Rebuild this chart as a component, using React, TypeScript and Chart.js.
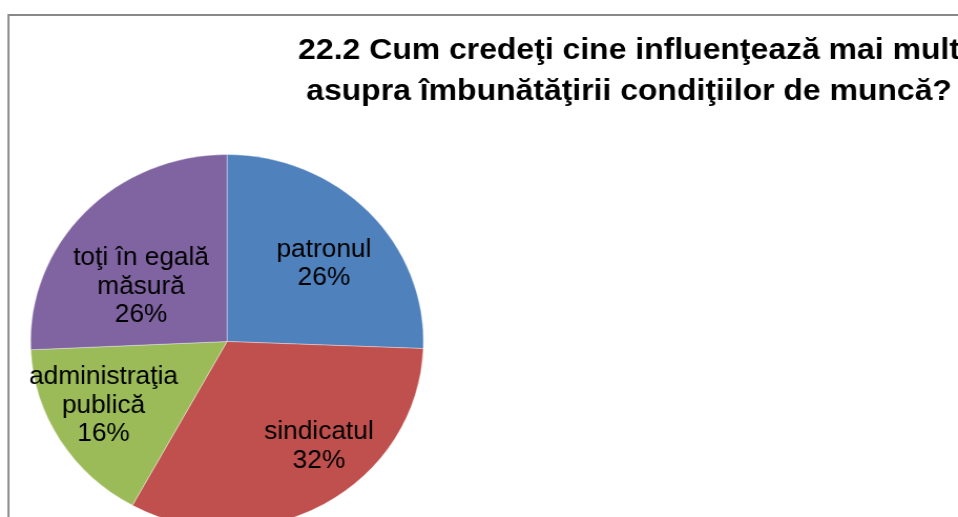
import { useEffect, useRef } from "react";
import { Chart, registerables } from "chart.js";

Chart.register(...registerables);

// ---- data ----
const categories = [
  "patronul",
  "sindicatul",
  "administraţia publică",
  "toţi în egală măsură",
];
const labelLines = [
  ["patronul"],
  ["sindicatul"],
  ["administraţia", "publică"],
  ["toţi în egală", "măsură"],
];
// shares read from the slice boundaries (labels show them rounded)
const shares = [25.6, 32.4, 16.3, 25.7];
const titleLines = [
  "22.2 Cum credeţi cine influenţează mai mult",
  "asupra îmbunătăţirii condiţiilor de muncă?",
];

// ---- styles ----
const sliceColors = ["#4F81BD", "#C0504D", "#9BBB59", "#8064A2"];
const VIEW_W = 958;
const VIEW_H = 517;
const STRETCH_X = 1.0504; // the reference is drawn slightly wider than tall
const CANVAS_W = Math.round(VIEW_W / STRETCH_X);
const CANVAS_H = VIEW_H;
const PIE_RADIUS = 187;
// label placement inside the slices (fraction of radius, angle shift in degrees)
const labelRadiusFraction = [0.652, 0.723, 0.712, 0.533];
const labelAngleShift = [3.1, -10.8, 3.9, -8.9];
const LABEL_FONT = "25px 'Liberation Sans', Arial, sans-serif";
const LABEL_LINE_H = 28.5;
const TITLE_FONT = "bold 30.4px 'Liberation Sans', Arial, sans-serif";
const TITLE_CENTER_X = 629 / STRETCH_X;
const TITLE_BASELINES = [59, 100];

const framePlugin = {
  id: "frameBorder",
  beforeDraw(chart: any) {
    const ctx = chart.ctx;
    ctx.save();
    ctx.strokeStyle = "#888888";
    ctx.lineWidth = 1.9;
    ctx.beginPath();
    ctx.moveTo(8.1, chart.height + 10);
    ctx.lineTo(8.1, 15);
    ctx.lineTo(chart.width + 10, 15);
    ctx.stroke();
    ctx.restore();
  },
};

const titlePlugin = {
  id: "wideTitle",
  afterDraw(chart: any) {
    const ctx = chart.ctx;
    ctx.save();
    ctx.font = TITLE_FONT;
    ctx.fillStyle = "#000000";
    ctx.textAlign = "center";
    ctx.textBaseline = "alphabetic";
    titleLines.forEach((line, i) => {
      ctx.fillText(line, TITLE_CENTER_X, TITLE_BASELINES[i]);
    });
    ctx.restore();
  },
};

const sliceLabelPlugin = {
  id: "sliceLabels",
  afterDatasetsDraw(chart: any) {
    const ctx = chart.ctx;
    const meta = chart.getDatasetMeta(0);
    const total = shares.reduce((a, b) => a + b, 0);
    ctx.save();
    ctx.font = LABEL_FONT;
    ctx.fillStyle = "#000000";
    ctx.textAlign = "center";
    ctx.textBaseline = "alphabetic";
    meta.data.forEach((arc: any, i: number) => {
      const p = arc.getProps(["x", "y", "startAngle", "endAngle", "outerRadius"], true);
      const mid = (p.startAngle + p.endAngle) / 2 + (labelAngleShift[i] * Math.PI) / 180;
      const r = p.outerRadius * labelRadiusFraction[i];
      const cx = p.x + Math.cos(mid) * r;
      const cy = p.y + Math.sin(mid) * r;
      const pct = Math.round((shares[i] / total) * 100);
      const lines = [...labelLines[i], `${pct}%`];
      const first = cy - ((lines.length - 1) * LABEL_LINE_H) / 2 + 9;
      lines.forEach((t, k) => ctx.fillText(t, cx, first + k * LABEL_LINE_H));
    });
    ctx.restore();
  },
};

export default function App() {
  const canvasRef = useRef<HTMLCanvasElement | null>(null);

  useEffect(() => {
    if (!canvasRef.current) return;
    const pieCenterX = 227 / STRETCH_X;
    const left = 20;
    const right = CANVAS_W - (2 * pieCenterX - left);
    const chart = new Chart(canvasRef.current, {
      type: "pie",
      data: {
        labels: categories,
        datasets: [
          {
            data: shares,
            backgroundColor: sliceColors,
            borderColor: "rgba(255,255,255,0.35)",
            borderWidth: 1,
            radius: PIE_RADIUS,
          },
        ],
      },
      options: {
        responsive: false,
        animation: false,
        devicePixelRatio: 1,
        events: [],
        layout: { padding: { left, right, top: 166, bottom: 0 } },
        plugins: {
          legend: { display: false },
          title: { display: false },
          tooltip: { enabled: false },
        },
      },
      plugins: [framePlugin, sliceLabelPlugin, titlePlugin],
    });
    return () => chart.destroy();
  }, []);

  return (
    <div
      style={{
        position: "fixed",
        left: 0,
        top: 0,
        width: VIEW_W,
        height: VIEW_H,
        overflow: "hidden",
        background: "#ffffff",
      }}
    >
      <canvas
        ref={canvasRef}
        width={CANVAS_W}
        height={CANVAS_H}
        style={{ width: VIEW_W + "px", height: VIEW_H + "px", display: "block" }}
      />
    </div>
  );
}
